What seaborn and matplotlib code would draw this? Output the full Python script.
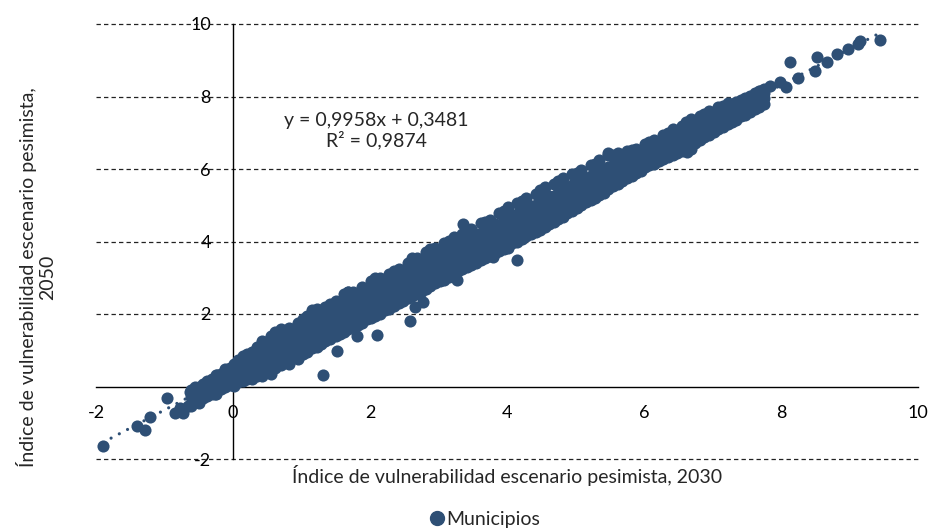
import matplotlib
matplotlib.use("Agg")
import matplotlib.pyplot as plt
import seaborn as sns
import pandas as pd
from matplotlib.lines import Line2D

# sparse points at the lower-left end
tail_x = [-1.9, -1.4, -1.28, -1.21, -0.96, -0.85, -0.78, -0.73, -0.66, -0.63, -0.55,
          -0.44, -0.26, -0.23, -0.12, 0.0]
tail_y = [-1.63, -1.1, -1.19, -0.83, -0.33, -0.72, -0.6, -0.72, -0.55, -0.14, -0.35,
          -0.17, -0.22, 0.33, 0.47, 0.06]

# dense band, read column by column (x, then the y values stacked at that x)
band_x = [-0.62, -0.5, -0.38, -0.25, -0.12, 0.02, 0.15, 0.28, 0.42, 0.55, 0.7, 0.82, 0.95,
          1.08, 1.22, 1.35, 1.5, 1.62, 1.75, 1.88, 2.02, 2.15, 2.28, 2.42, 2.55, 2.68,
          2.82, 2.95, 3.08, 3.22, 3.35, 3.48, 3.62, 3.75, 3.88, 4.02, 4.15, 4.28, 4.42,
          4.55, 4.68, 4.82, 4.95, 5.08, 5.22, 5.35, 5.48, 5.62, 5.75, 5.88, 6.02, 6.15,
          6.28, 6.42, 6.55, 6.68, 6.82, 6.95, 7.08, 7.22, 7.35, 7.48, 7.62, 7.75]
band_y = [
    [-0.55, -0.3, -0.1], [-0.45, -0.2, 0.0], [-0.25, -0.05, 0.15], [-0.2, 0.1, 0.32],
    [0.0, 0.2, 0.45], [0.02, 0.25, 0.45, 0.62], [0.15, 0.35, 0.58, 0.85],
    [0.2, 0.45, 0.7, 0.95], [0.3, 0.55, 0.8, 1.1, 1.25], [0.35, 0.6, 0.9, 1.15, 1.4],
    [0.6, 0.85, 1.1, 1.35, 1.6], [0.62, 0.9, 1.2, 1.45, 1.62], [0.75, 1.0, 1.3, 1.55, 1.75],
    [0.95, 1.2, 1.45, 1.7, 1.95], [1.1, 1.3, 1.55, 1.8, 2.15], [1.25, 1.45, 1.7, 1.95, 2.2],
    [1.4, 1.6, 1.85, 2.1, 2.35], [1.5, 1.75, 2.0, 2.25, 2.55], [1.65, 1.9, 2.1, 2.35, 2.6],
    [1.75, 2.0, 2.25, 2.5, 2.75], [1.9, 2.1, 2.35, 2.6, 2.92], [2.0, 2.25, 2.5, 2.75, 3.0],
    [2.15, 2.4, 2.6, 2.85, 3.1], [2.3, 2.5, 2.75, 3.0, 3.25], [2.45, 2.65, 2.9, 3.15, 3.4],
    [2.55, 2.8, 3.05, 3.3, 3.55], [2.7, 2.95, 3.2, 3.45, 3.7], [2.85, 3.05, 3.3, 3.55, 3.82],
    [2.95, 3.2, 3.45, 3.7, 3.95], [3.1, 3.35, 3.55, 3.8, 4.12], [3.25, 3.45, 3.7, 3.95, 4.2],
    [3.35, 3.6, 3.85, 4.1, 4.35], [3.5, 3.72, 3.95, 4.2, 4.5], [3.6, 3.85, 4.1, 4.35, 4.6],
    [3.75, 4.0, 4.2, 4.45, 4.8], [3.85, 4.1, 4.35, 4.6, 4.95], [4.0, 4.25, 4.5, 4.75, 5.05],
    [4.15, 4.4, 4.6, 4.85, 5.2], [4.25, 4.5, 4.75, 5.0, 5.3], [4.4, 4.65, 4.9, 5.15, 5.5],
    [4.55, 4.8, 5.0, 5.25, 5.6], [4.68, 4.9, 5.15, 5.4, 5.75], [4.85, 5.05, 5.3, 5.55, 5.85],
    [5.0, 5.2, 5.4, 5.65, 5.98], [5.15, 5.35, 5.55, 5.8, 6.1], [5.28, 5.48, 5.7, 5.95, 6.25],
    [5.45, 5.6, 5.8, 6.05, 6.4], [5.6, 5.75, 5.95, 6.2, 6.45], [5.75, 5.9, 6.1, 6.3, 6.5],
    [5.88, 6.05, 6.2, 6.4, 6.55], [6.05, 6.2, 6.35, 6.55, 6.7], [6.15, 6.3, 6.48, 6.65, 6.8],
    [6.28, 6.45, 6.6, 6.8, 6.95], [6.4, 6.55, 6.75, 6.9, 7.1], [6.5, 6.7, 6.88, 7.05, 7.2],
    [6.55, 6.8, 7.0, 7.2, 7.38], [6.8, 6.95, 7.15, 7.3, 7.45], [6.95, 7.1, 7.28, 7.45, 7.6],
    [7.1, 7.25, 7.4, 7.58, 7.7], [7.25, 7.4, 7.55, 7.7, 7.82], [7.35, 7.5, 7.68, 7.85],
    [7.5, 7.65, 7.8, 7.95], [7.65, 7.8, 7.95, 8.1], [7.8, 7.95, 8.1, 8.2],
]

# second pass of columns, between the first ones
fill_x = [-0.56, -0.44, -0.31, -0.18, -0.05, 0.08, 0.21, 0.35, 0.48, 0.62, 0.76, 0.88,
          1.02, 1.15, 1.28, 1.42, 1.56, 1.68, 1.82, 1.95, 2.08, 2.22, 2.35, 2.48, 2.62,
          2.75, 2.88, 3.02, 3.15, 3.28, 3.42, 3.55, 3.68, 3.82, 3.95, 4.08, 4.22, 4.35,
          4.48, 4.62, 4.75, 4.88, 5.02, 5.15, 5.28, 5.42, 5.55, 5.68, 5.82, 5.95, 6.08,
          6.22, 6.35, 6.48, 6.62, 6.75, 6.88, 7.02, 7.15, 7.28, 7.42, 7.55, 7.68]
fill_y = [
    [-0.42, -0.22, -0.02], [-0.33, -0.12, 0.08], [-0.2, 0.02, 0.22], [-0.08, 0.12, 0.35],
    [0.05, 0.22, 0.52], [0.12, 0.33, 0.55, 0.72], [0.22, 0.45, 0.68, 0.9],
    [0.3, 0.58, 0.82, 1.08], [0.45, 0.7, 0.95, 1.22], [0.52, 0.75, 1.0, 1.25, 1.5],
    [0.7, 0.98, 1.22, 1.5], [0.8, 1.05, 1.32, 1.58], [0.9, 1.12, 1.38, 1.62, 1.85],
    [1.05, 1.32, 1.6, 1.85, 2.1], [1.18, 1.42, 1.68, 1.92], [1.3, 1.55, 1.8, 2.05, 2.28],
    [1.45, 1.72, 1.98, 2.22], [1.6, 1.85, 2.12, 2.4, 2.62], [1.7, 1.95, 2.22, 2.48],
    [1.85, 2.1, 2.38, 2.65], [1.95, 2.2, 2.48, 2.75, 2.98], [2.1, 2.35, 2.62, 2.9],
    [2.22, 2.48, 2.75, 3.0, 3.2], [2.35, 2.6, 2.88, 3.12], [2.5, 2.75, 3.0, 3.28, 3.55],
    [2.62, 2.88, 3.15, 3.4], [2.78, 3.0, 3.28, 3.55, 3.8], [2.9, 3.15, 3.4, 3.65],
    [3.02, 3.28, 3.55, 3.8, 4.02], [3.18, 3.4, 3.68, 3.92], [3.3, 3.55, 3.8, 4.05, 4.3],
    [3.42, 3.68, 3.95, 4.22], [3.55, 3.8, 4.05, 4.3, 4.55], [3.68, 3.92, 4.2, 4.48],
    [3.8, 4.05, 4.32, 4.58, 4.85], [3.95, 4.2, 4.45, 4.72], [4.08, 4.32, 4.58, 4.85, 5.12],
    [4.2, 4.45, 4.72, 4.98], [4.32, 4.58, 4.85, 5.12, 5.42], [4.48, 4.72, 4.98, 5.25],
    [4.62, 4.85, 5.1, 5.35, 5.68], [4.78, 5.0, 5.25, 5.5], [4.92, 5.12, 5.35, 5.6, 5.9],
    [5.08, 5.28, 5.5, 5.75], [5.2, 5.42, 5.62, 5.88, 6.15], [5.35, 5.55, 5.78, 6.0],
    [5.52, 5.7, 5.9, 6.12, 6.4], [5.68, 5.85, 6.05, 6.25], [5.82, 5.98, 6.15, 6.35, 6.52],
    [5.95, 6.12, 6.28, 6.48], [6.1, 6.25, 6.42, 6.6, 6.75], [6.22, 6.38, 6.55, 6.72],
    [6.32, 6.5, 6.68, 6.85, 7.0], [6.45, 6.62, 6.8, 6.98], [6.6, 6.78, 6.95, 7.12, 7.3],
    [6.72, 6.9, 7.08, 7.25], [6.88, 7.05, 7.22, 7.38, 7.52], [7.02, 7.18, 7.35, 7.52],
    [7.15, 7.32, 7.48, 7.65, 7.75], [7.3, 7.45, 7.62, 7.78], [7.45, 7.6, 7.75, 7.9],
    [7.58, 7.72, 7.88, 8.02], [7.72, 7.88, 8.02, 8.15],
]

# points off the band
out_x = [1.31, 1.52, 1.81, 2.1, 2.58, 2.66, 2.77, 3.27, 3.8, 4.15, 4.01, 3.36, 3.78,
         1.68, 6.63, 5.47]
out_y = [0.33, 0.99, 1.38, 1.43, 1.82, 2.2, 2.34, 2.95, 3.56, 3.5, 3.83, 4.47, 4.47,
         2.62, 6.48, 6.45]

# sparse points at the upper-right end
top_x = [7.7, 7.84, 7.99, 8.08, 8.13, 8.25, 8.5, 8.52, 8.67, 8.82, 8.98, 9.12, 9.15, 9.45]
top_y = [8.14, 8.28, 8.41, 8.25, 8.94, 8.52, 8.69, 9.08, 8.94, 9.16, 9.3, 9.46, 9.52, 9.57]

slope, intercept, r2 = 0.9958, 0.3481, 0.9874

xs = list(tail_x) + list(out_x) + list(top_x)
ys = list(tail_y) + list(out_y) + list(top_y)
for cols_x, cols_y in [(band_x, band_y), (fill_x, fill_y)]:
    for bx, col in zip(cols_x, cols_y):
        for by in col:
            xs.append(bx)
            ys.append(by)
df = pd.DataFrame({"x2030": xs, "y2050": ys})

sns.set_style("white")
plt.rcParams["font.family"] = ["Lato", "DejaVu Sans"]
color = "#2E4F75"

fig = plt.figure(figsize=(9.32, 5.29), dpi=100)
ax = fig.add_axes([96 / 932, 1 - 459 / 529, 822 / 932, 435 / 529])

sns.scatterplot(data=df, x="x2030", y="y2050", ax=ax, color=color, s=76,
                linewidth=0, legend=False, zorder=3)

# linear trendline over the data range
x0, x1 = df["x2030"].min(), df["x2030"].max()
ax.plot([x0, x1], [slope * x0 + intercept, slope * x1 + intercept], color=color,
        lw=2.3, linestyle=(0, (0.01, 2.9)), dash_capstyle="round", zorder=4)

ax.set_xlim(-2, 10)
ax.set_ylim(-2, 10)
ax.set_xticks([-2, 0, 2, 4, 6, 8, 10])
ax.set_yticks([-2, 0, 2, 4, 6, 8, 10])
ax.set_xticklabels(["-2", "0", "2", "4", "6", "8", "10"])
ax.set_yticklabels(["-2", "0", "2", "4", "6", "8", "10"])

for gy in [-2, 2, 4, 6, 8, 10]:
    ax.axhline(gy, color="#222222", lw=0.9, linestyle=(0, (3.5, 2.5)), zorder=1,
               clip_on=False)

ax.spines["left"].set_position(("data", 0))
ax.spines["bottom"].set_position(("data", 0))
ax.spines["top"].set_visible(False)
ax.spines["right"].set_visible(False)
for sp in ["left", "bottom"]:
    ax.spines[sp].set_color("black")
    ax.spines[sp].set_linewidth(1.0)
ax.tick_params(axis="y", direction="out", length=5, width=1, pad=11, labelsize=13,
               colors="black")
ax.tick_params(axis="x", direction="out", length=5, width=1, pad=8, labelsize=13,
               colors="black")
ax.set_xlabel("")
ax.set_ylabel("")

ax.text(2.09, 7.06, f"y = {slope:.4f}x + {intercept:.4f}\nR² = {r2:.4f}".replace(".", ","),
        ha="center", va="center", multialignment="center", fontsize=14, zorder=5,
        linespacing=1.15)

fig.text(507 / 932, 1 - 476 / 529, "Índice de vulnerabilidad escenario pesimista, 2030",
         ha="center", va="center", fontsize=14)
fig.text(36 / 932, 1 - 277 / 529, "Índice de vulnerabilidad escenario pesimista,\n2050",
         ha="center", va="center", rotation=90, multialignment="center", fontsize=14,
         linespacing=1.2)

handle = Line2D([], [], marker="o", linestyle="none", color=color, markersize=10)
fig.legend([handle], ["Municipios"], loc="center", bbox_to_anchor=(484 / 932, 1 - 519 / 529),
           frameon=False, fontsize=14, handletextpad=0.05, handlelength=0.9)

fig.savefig("out.png", dpi=100)
